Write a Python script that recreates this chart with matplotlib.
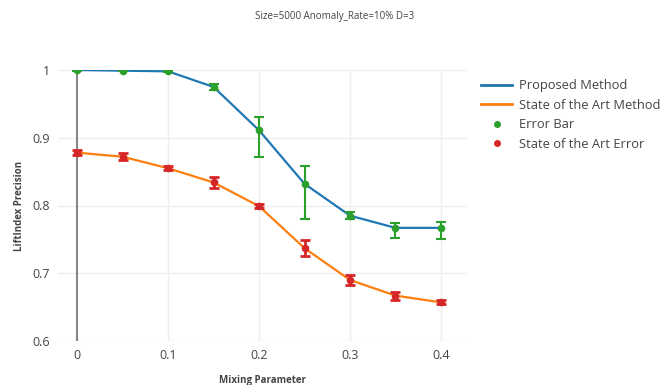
import matplotlib
matplotlib.use("Agg")
from matplotlib import pyplot as plt
from matplotlib.lines import Line2D

# data
mixing = [0, 0.05, 0.1, 0.15, 0.2, 0.25, 0.3, 0.35, 0.4]
proposed = [1.0, 0.999, 0.998, 0.975, 0.911, 0.832, 0.785, 0.767, 0.767]
proposed_err_up = [0.001, 0.001, 0.001, 0.005, 0.019, 0.026, 0.005, 0.0075, 0.0085]
proposed_err_down = [0.001, 0.001, 0.001, 0.005, 0.040, 0.052, 0.005, 0.015, 0.017]
sota = [0.878, 0.872, 0.855, 0.834, 0.799, 0.737, 0.690, 0.667, 0.657]
sota_err = [0.004, 0.005, 0.003, 0.008, 0.003, 0.012, 0.008, 0.006, 0.003]

x_ticks = [0, 0.1, 0.2, 0.3, 0.4]
x_labels = ["0", "0.1", "0.2", "0.3", "0.4"]
y_ticks = [0.6, 0.7, 0.8, 0.9, 1.0]
y_labels = ["0.6", "0.7", "0.8", "0.9", "1"]

plt.rcParams['font.family'] = ['Open Sans', 'DejaVu Sans']

fig = plt.figure(figsize=(6.69, 3.85), dpi=100)
ax = fig.add_axes([58 / 669, 1 - 341 / 385, (467 - 58) / 669, (341 - 70) / 385])

blue, orange, green, red = '#1f77b4', '#ff7f0e', '#2ca02c', '#d62728'

ax.plot(mixing, proposed, color=blue, lw=1.6, zorder=3)
ax.plot(mixing, sota, color=orange, lw=1.6, zorder=3)
ax.errorbar(mixing, proposed, yerr=[proposed_err_down, proposed_err_up], fmt='o', color=green,
            ms=4.5, elinewidth=1.5, capsize=3.5, capthick=1.5, zorder=4)
ax.errorbar(mixing, sota, yerr=sota_err, fmt='o', color=red, ms=4.5,
            elinewidth=2, capsize=3.5, capthick=2, zorder=4)

ax.set_xlim(-0.021, 0.4286)
ax.set_ylim(0.6, 1.0)
ax.set_xticks(x_ticks)
ax.set_xticklabels(x_labels)
ax.set_yticks(y_ticks)
ax.set_yticklabels(y_labels)
ax.grid(True, color='#eeeeee', lw=1)
ax.set_axisbelow(True)
ax.axvline(0, color='#888888', lw=1.5, zorder=2)
for s in ax.spines.values():
    s.set_visible(False)
ax.tick_params(length=0, labelsize=9, colors='#444444', pad=6)

ax.set_xlabel("Mixing Parameter", fontsize=7, fontweight='bold', color='#444444', labelpad=9)
ax.set_ylabel("LiftIndex Precision", fontsize=7, fontweight='bold', color='#444444', labelpad=5)
fig.text(335 / 669, 1 - 17 / 385, "Size=5000 Anomaly_Rate=10% D=3", ha='center', va='center',
         fontsize=7, color='#444444')

handles = [Line2D([], [], color=blue, lw=2),
           Line2D([], [], color=orange, lw=2),
           Line2D([], [], color=green, marker='o', ls='none', ms=4),
           Line2D([], [], color=red, marker='o', ls='none', ms=4)]
names = ["Proposed Method", "State of the Art Method", "Error Bar", "State of the Art Error"]
leg = fig.legend(handles, names, loc='upper left', bbox_to_anchor=(476 / 669, 1 - 74 / 385),
                 frameon=False, fontsize=9.3, handlelength=2.4, labelspacing=0.5,
                 borderaxespad=0, handletextpad=0.5)
for t in leg.get_texts():
    t.set_color('#444444')

fig.savefig("out.png", dpi=100)
